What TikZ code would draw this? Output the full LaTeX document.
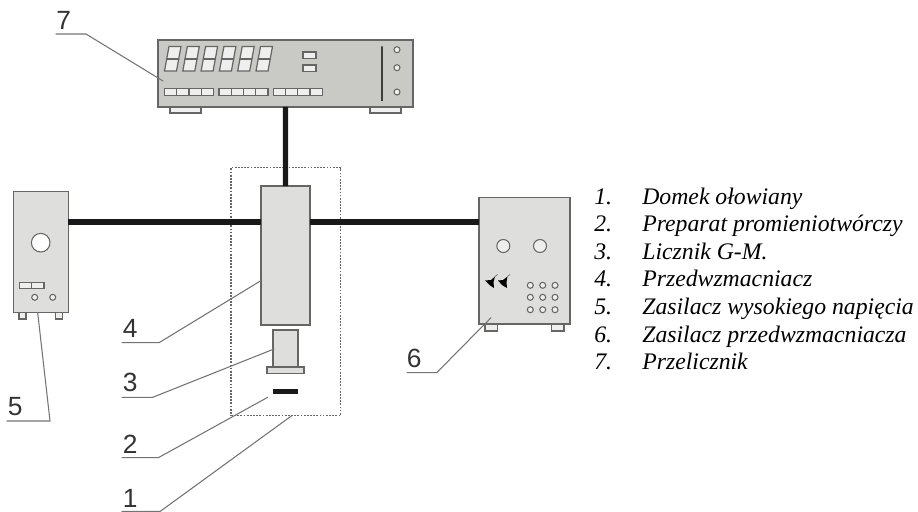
\documentclass[tikz,border=0pt]{standalone}
\usepackage{fontspec}
\setmainfont{Liberation Serif}
\newfontfamily\labelfont{Liberation Sans}
\usepackage{xcolor}
\definecolor{linegray}{HTML}{666664}
\definecolor{leadgray}{HTML}{737371}
\definecolor{bodygray}{HTML}{DEDEDC}
\definecolor{panelgray}{HTML}{C9C9C5}
\definecolor{keygray}{HTML}{EFEFED}
\definecolor{digitgray}{HTML}{333333}
\begin{document}
\begin{tikzpicture}[x=0.02cm,y=-0.02cm,line cap=round,
  unit/.style={draw=linegray,fill=bodygray,line width=0.9pt,inner sep=0pt,outer sep=0pt,anchor=north west},
  foot/.style={draw=linegray,fill=keygray,line width=0.6pt},
  knob/.style={draw=linegray,fill=keygray,line width=0.6pt},
  key/.style={draw=linegray,fill=keygray,line width=0.7pt},
  cable/.style={line width=2.9pt,line cap=butt,black!90},
  leader/.style={draw=leadgray,line width=0.6pt},
  digitlabel/.style={font=\labelfont\fontsize{15}{15}\selectfont,text=digitgray,anchor=base west,inner sep=0pt},
  listtext/.style={font=\fontsize{13.5}{13.5}\selectfont\itshape,anchor=base west,inner sep=0pt}]
\useasboundingbox (0,0) rectangle (918,511);
% feet
\draw[foot] (170,107) rectangle (201,113);
\draw[foot] (370,107) rectangle (401,113);
\draw[foot] (19,312) rectangle (26,319);
\draw[foot] (55.3,312) rectangle (62.3,319);
\draw[foot] (485,324) rectangle (497.7,331);
\draw[foot] (551.3,324) rectangle (564,331);
% units
\node[unit,fill=panelgray,minimum width=5.1cm,minimum height=1.34cm] (counter) at (158,40) {};
\node[unit,minimum width=1.1cm,minimum height=2.42cm] (hvsupply) at (13.3,191.7) {};
\node[unit,minimum width=0.98cm,minimum height=2.78cm] (preamp) at (261,186) {};
\node[unit,minimum width=1.82cm,minimum height=2.53cm] (ampsupply) at (479,197.7) {};
\node[unit,minimum width=0.5cm,minimum height=0.74cm] (tube) at (273,330) {};
\node[unit,line width=0.7pt,minimum width=0.74cm,minimum height=0.13cm] (tubebase) at (267,367) {};
\node[unit,draw=none,fill=black!90,minimum width=0.5cm,minimum height=0.1cm] (source) at (273,388.7) {};
\node[draw=linegray,line cap=butt,dash pattern=on 1pt off 0.8pt,line width=0.6pt,inner sep=0pt,outer sep=0pt,anchor=north west,minimum width=2.194cm,minimum height=4.96cm] (housing) at (231,167.7) {};
% cables
\coordinate (cablelevel) at (0,222);
\draw[cable] (counter.south) -- (preamp.north);
\draw[cable] (hvsupply.east |- cablelevel) -- (preamp.west |- cablelevel);
\draw[cable] (preamp.east |- cablelevel) -- (ampsupply.west |- cablelevel);
% counter panel
\foreach \i in {0,...,5}{
  \begin{scope}[xshift=\i*18.3*0.02cm]
  \draw[key] (164.5,71) -- (169,46.5) -- (181,46.5) -- (176.5,71) -- cycle;
  \draw[linegray,line width=0.7pt] (166.7,59) -- (178.8,59);
  \end{scope}
}
\draw[key] (303,52) rectangle (316,58.7);
\draw[key] (303,65) rectangle (316,71.3);
\foreach \g in {164.5,219,273.3}{
  \foreach \k in {0,...,3}
    \draw[key] ({\g+\k*12.25},88.7) rectangle ({\g+(\k+1)*12.25},95.7);
}
\draw[linegray!60!black,line width=0.6pt] (382,46.7) -- (382,100.7);
\foreach \y in {49.7,67.7,92}
  \draw[knob] (397,\y) circle (3);
% high voltage supply panel
\draw[knob,fill=white] (40.7,242.7) circle (9.3);
\draw[key] (19.3,282.3) rectangle (31.7,288.7);
\draw[key] (31.7,282.3) rectangle (44,288.7);
\draw[knob] (34.7,297.3) circle (3);
\draw[knob] (52.7,297.3) circle (3);
% preamplifier supply panel
\draw[knob] (503.3,246) circle (6.5);
\draw[knob] (540,246) circle (6.5);
\foreach \x in {530.3,542.7,555}
  \foreach \y in {285.3,297.3,309.7}
    \draw[knob] (\x,\y) circle (3);
\fill[black] (485,280.5) -- (491,280) -- (495,276.5) -- (493.5,282) -- (494,288) -- (489.5,285) -- cycle;
\fill[black] (498,280.5) -- (503,280) -- (507.5,276.5) -- (506.5,282) -- (507,288) -- (502,285) -- cycle;
\draw[leadgray,line width=0.4pt] (495,276.5) -- (497.5,274.5);
\draw[leadgray,line width=0.4pt] (507.5,276.5) -- (510,274.5);
% labels
\node[digitlabel] (label7) at (56,29) {7};
\node[digitlabel] (label5) at (7.5,415) {5};
\node[digitlabel] (label6) at (406.5,367) {6};
\node[digitlabel] (label4) at (122.5,337) {4};
\node[digitlabel] (label3) at (122.5,391) {3};
\node[digitlabel] (label2) at (122.5,453) {2};
\node[digitlabel] (label1) at (122.5,507) {1};
% leaders
\coordinate (tip7) at (163,81);
\coordinate (tip5) at (37.7,312.7);
\coordinate (tip6) at (491,317.7);
\coordinate (tip4) at (262,280);
\coordinate (tip3) at (274,349);
\coordinate (tip2) at (267.7,397.3);
\coordinate (tip1) at (291.7,415.7);
\draw[leader] (56,34) -- (86,34) -- (tip7);
\draw[leader] (7,421) -- (50,421) -- (tip5);
\draw[leader] (407,372.7) -- (436.7,372.7) -- (tip6);
\draw[leader] (122,342.7) -- (159,342.7) -- (tip4);
\draw[leader] (122,397.3) -- (152.7,397.3) -- (tip3);
\draw[leader] (122,457.7) -- (158.3,457.7) -- (tip2);
\draw[leader] (122,511.5) -- (160,511.5) -- (tip1);
% list
\foreach \n/\t/\y in {1/Domek ołowiany/204,2/Preparat promieniotwórczy/231.6,3/Licznik G-M./259.2,4/Przedwzmacniacz/286.8,5/Zasilacz wysokiego napięcia/314.4,6/Zasilacz przedwzmacniacza/342,7/Przelicznik/369.6}{
  \node[listtext] (num\n) at (594,\y) {\n.};
  \node[listtext] (item\n) at (642,\y) {\t};
}
\end{tikzpicture}
\end{document}
